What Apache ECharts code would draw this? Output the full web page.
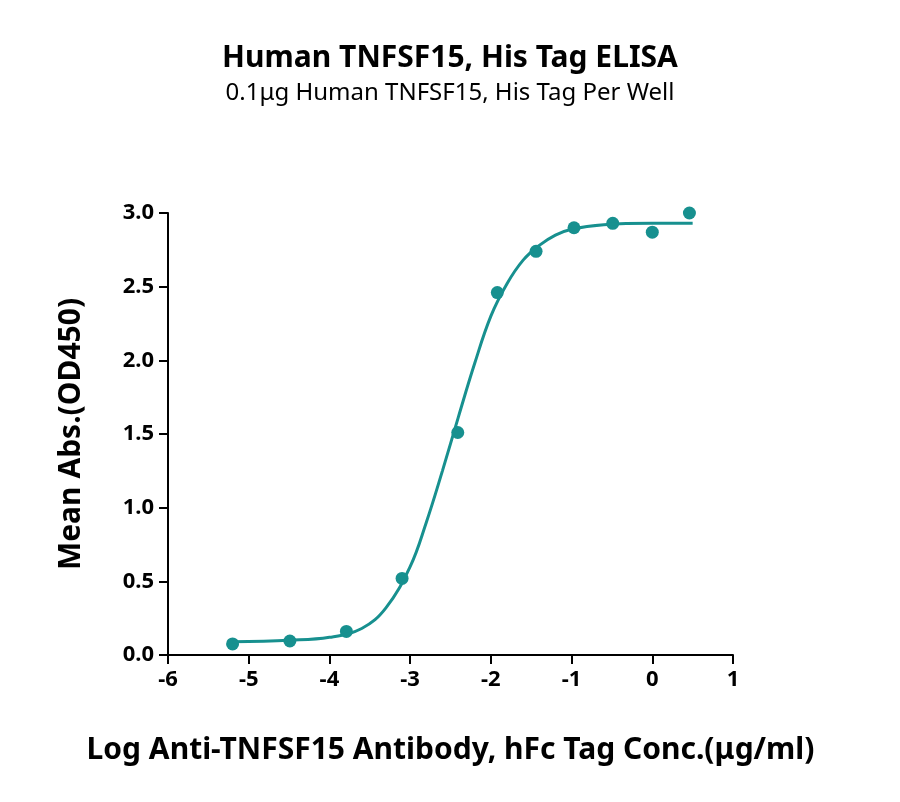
<!DOCTYPE html>
<html><head><meta charset="utf-8">
<script src="https://cdn.jsdelivr.net/npm/echarts@6/dist/echarts.min.js"></script>
<style>html,body{margin:0;background:#fff}#c{width:900px;height:802px}</style>
</head><body><div id="c"></div>
<script>
const pointX=[-5.2,-4.49,-3.79,-3.1,-2.41,-1.92,-1.44,-0.97,-0.49,0.0,0.46];
const pointY=[0.075,0.095,0.16,0.52,1.51,2.46,2.74,2.90,2.93,2.87,3.0];
const curveX=[-5.2,-4.5,-4.0,-3.6,-3.3,-3.0,-2.8,-2.6,-2.4,-2.2,-2.0,-1.8,-1.6,-1.4,-1.2,-1.0,-0.6,0,0.5];
const curveY=[0.09,0.10,0.12,0.18,0.32,0.60,0.90,1.25,1.62,1.98,2.30,2.52,2.68,2.78,2.85,2.89,2.92,2.93,2.93];
const color='#17908f';
const f='"Noto Sans", sans-serif';
const chart=echarts.init(document.getElementById('c'));
chart.setOption({
  animation:false,
  title:{text:'Human TNFSF15, His Tag ELISA',subtext:'0.1μg Human TNFSF15, His Tag Per Well',left:'center',top:38,
    textStyle:{fontFamily:f,fontSize:30,fontWeight:'bold',color:'#000'},
    subtextStyle:{fontFamily:f,fontSize:24,color:'#000'},itemGap:8},
  grid:{left:168,right:167,top:213,bottom:147},
  xAxis:{type:'value',min:-6,max:1,interval:1,name:'Log Anti-TNFSF15 Antibody, hFc Tag Conc.(μg/ml)',nameLocation:'middle',nameGap:80,
    nameTextStyle:{fontFamily:f,fontSize:30,fontWeight:'bold',color:'#000'},
    axisLine:{onZero:false,lineStyle:{color:'#000',width:2}},axisTick:{length:9,lineStyle:{width:2}},
    axisLabel:{fontFamily:f,fontSize:22,fontWeight:'bold',color:'#000',margin:14},splitLine:{show:false}},
  yAxis:{type:'value',min:0,max:3,interval:0.5,name:'Mean Abs.(OD450)',nameLocation:'middle',nameGap:82,
    nameTextStyle:{fontFamily:f,fontSize:30,fontWeight:'bold',color:'#000'},
    axisLine:{show:true,onZero:false,lineStyle:{color:'#000',width:2}},axisTick:{show:true,length:9,lineStyle:{width:2}},
    axisLabel:{fontFamily:f,fontSize:22,fontWeight:'bold',color:'#000',margin:14,formatter:v=>v.toFixed(1)},splitLine:{show:false}},
  series:[
    {type:'line',data:curveX.map((x,i)=>[x,curveY[i]]),smooth:0.4,showSymbol:false,lineStyle:{color,width:3}},
    {type:'scatter',data:pointX.map((x,i)=>[x,pointY[i]]),symbolSize:13,itemStyle:{color,opacity:1}}
  ]
});
</script></body></html>
